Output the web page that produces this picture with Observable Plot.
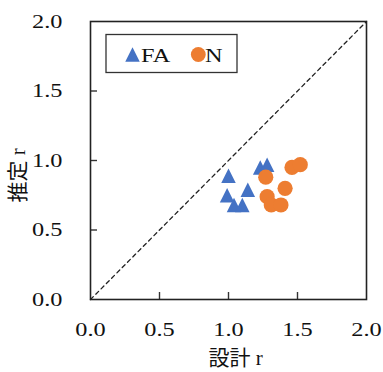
<!DOCTYPE html>
<html>
<head>
<meta charset="utf-8">
<script src="https://cdn.jsdelivr.net/npm/d3@7"></script>
<script src="https://cdn.jsdelivr.net/npm/@observablehq/plot@0.6"></script>
<style>
  html, body { margin: 0; padding: 0; background: #fff; }
  #wrap { position: relative; width: 383px; height: 372px; }
  #legend { position: absolute; left: 0; top: 0; pointer-events: none; }
</style>
</head>
<body>
<div id="wrap">
  <div id="chart"></div>
  <svg id="legend" width="383" height="372"></svg>
</div>
<script>
// Design value r vs. estimated value r for the two series
const seriesNames = ["FA", "N"];
const seriesColors = ["#4472C4", "#ED7D31"];

const faDesign   = [1.00, 0.99, 1.04, 1.10, 1.14, 1.23, 1.28];
const faEstimate = [0.89, 0.75, 0.68, 0.68, 0.79, 0.95, 0.97];

const nDesign    = [1.27, 1.46, 1.52, 1.28, 1.31, 1.38, 1.41];
const nEstimate  = [0.88, 0.95, 0.97, 0.74, 0.68, 0.68, 0.80];

const axisTicks = [0, 0.5, 1.0, 1.5, 2.0];
const innerTicks = [0.5, 1.0, 1.5];
const diagonal = [0, 2];

const xLabel = "設計 r";
const yLabel = "推定 r";

const fa = faDesign.map((x, i) => ({x, y: faEstimate[i]}));
const n = nDesign.map((x, i) => ({x, y: nEstimate[i]}));

const W = 383, H = 372;
const mL = 90, mR = 17, mT = 21, mB = 73;
const plotW = W - mL - mR, plotH = H - mT - mB;

const latinFont = "'Liberation Serif', 'Times New Roman', 'Noto Sans CJK JP', serif";
const stretch = 1.28; // wide Latin digits

// isosceles triangle marker, as wide as it is tall, centred on its box
const triangleSymbol = {
  draw(context, size) {
    const h = Math.sqrt(2 * size) / 2;
    context.moveTo(0, -h);
    context.lineTo(h, h);
    context.lineTo(-h, h);
    context.closePath();
  }
};

const chart = Plot.plot({
  width: W,
  height: H,
  marginLeft: mL,
  marginRight: mR,
  marginTop: mT,
  marginBottom: mB,
  style: { fontFamily: latinFont, fontSize: "19px", color: "#111", background: "#fff" },
  x: { domain: [0, 2] },
  y: { domain: [0, 2] },
  marks: [
    Plot.line(diagonal.map(v => ({x: v, y: v})), {
      x: "x", y: "y", stroke: "#222", strokeWidth: 1.3, strokeDasharray: "4,3.5"
    }),
    Plot.tickX(innerTicks, { x: d => d, stroke: "#333", strokeWidth: 1.4, insetTop: plotH - 7 }),
    Plot.tickY(innerTicks, { y: d => d, stroke: "#333", strokeWidth: 1.4, insetRight: plotW - 7 }),
    Plot.frame({ stroke: "#222", strokeWidth: 1.6 }),
    Plot.axisX({ ticks: axisTicks, tickFormat: d3.format(".1f"), tickSize: 0, tickPadding: 23, label: null, fontSize: 19 }),
    Plot.axisY({ ticks: axisTicks, tickFormat: d3.format(".1f"), tickSize: 0, tickPadding: 28, label: null, fontSize: 19 }),
    Plot.dot(fa, { x: "x", y: "y", symbol: triangleSymbol, r: 5.8, fill: seriesColors[0], stroke: "none" }),
    Plot.dot(n, { x: "x", y: "y", symbol: "circle", r: 7.6, fill: seriesColors[1], stroke: "none" }),
    Plot.text([xLabel], { text: d => d, frameAnchor: "bottom", textAnchor: "start", lineAnchor: "middle",
      dx: -20, dy: 59, fontSize: 21 }),
    Plot.text([yLabel], { text: d => d, frameAnchor: "left", textAnchor: "start", lineAnchor: "middle",
      dx: -72, dy: 42, rotate: -90, fontSize: 21 })
  ]
});
document.getElementById("chart").appendChild(chart);

// widen tick-label digits horizontally about their anchor point
d3.select(chart).selectAll('g[aria-label="x-axis tick label"] text, g[aria-label="y-axis tick label"] text')
  .each(function() {
    const t = d3.select(this);
    const tr = t.attr("transform");
    if (tr) {
      t.attr("transform", `${tr} scale(${stretch},1)`);
    } else {
      const x = +t.attr("x") || 0, y = +t.attr("y") || 0;
      t.attr("x", null).attr("y", null).attr("transform", `translate(${x},${y}) scale(${stretch},1)`);
    }
  });

// Legend box
const lg = d3.select("#legend");
lg.append("rect").attr("x", 106).attr("y", 34.5).attr("width", 131).attr("height", 38)
  .attr("fill", "#fff").attr("stroke", "#333").attr("stroke-width", 1.3);
const triPath = d3.path();
triangleSymbol.draw(triPath, Math.PI * 5.8 * 5.8);
lg.append("path").attr("transform", "translate(132.5,54.5)").attr("d", triPath.toString())
  .attr("fill", seriesColors[0]);
lg.append("text").attr("transform", `translate(141,61.7) scale(${stretch},1)`)
  .attr("font-family", latinFont).attr("font-size", 19).attr("fill", "#111").text(seriesNames[0]);
lg.append("circle").attr("cx", 198.3).attr("cy", 54.5).attr("r", 7.4).attr("fill", seriesColors[1]);
lg.append("text").attr("transform", `translate(205,61.7) scale(${stretch},1)`)
  .attr("font-family", latinFont).attr("font-size", 19).attr("fill", "#111").text(seriesNames[1]);
</script>
</body>
</html>
